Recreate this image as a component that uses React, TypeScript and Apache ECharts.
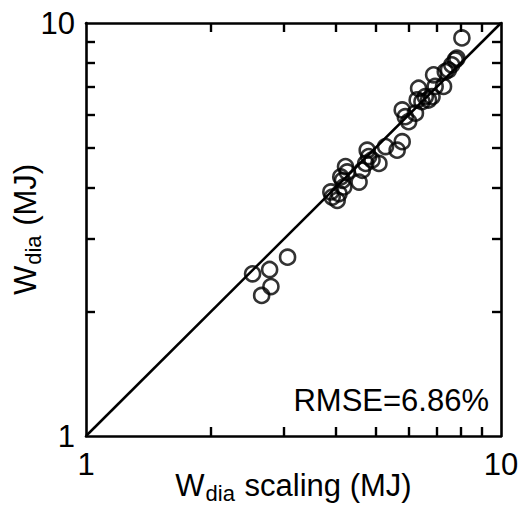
import React, { useEffect, useRef } from "react";
import * as echarts from "echarts";

const xScaling = [
  2.52, 2.77, 2.79, 2.65, 3.06,
  3.89, 3.92, 4.03, 4.07, 4.15, 4.22, 4.26, 4.18, 4.11,
  4.55, 4.63, 4.72, 4.76, 4.80, 4.89, 5.08, 5.27,
  5.62, 5.78, 5.78, 5.88, 5.99, 6.22,
  6.28, 6.33, 6.45, 6.57, 6.69, 6.82, 6.88, 6.94, 7.27, 7.34, 7.47, 7.61, 7.76, 7.83, 8.05,
];
const yMeasured = [
  2.47, 2.53, 2.30, 2.19, 2.71,
  3.90, 3.79, 3.72, 3.86, 4.16, 4.49, 4.36, 4.01, 4.24,
  4.12, 4.40, 4.57, 4.92, 4.75, 4.66, 4.57, 5.02,
  4.92, 5.16, 6.16, 5.93, 5.77, 6.05,
  6.51, 6.95, 6.45, 6.63, 6.51, 6.63, 7.49, 7.02, 7.02, 7.63, 7.70, 7.92, 8.14, 8.22, 9.20,
];
const diagonal = [1, 10];
const minorTicks = [2, 3, 4, 5, 6, 7, 8, 9];
const majorLabels = [1, 10];
const rmseText = "RMSE=6.86%";

const FONT = "'Liberation Sans', Arial, Helvetica, sans-serif";

export default function App() {
  const ref = useRef<HTMLDivElement>(null);
  useEffect(() => {
    if (!ref.current) return;
    const chart = echarts.init(ref.current, undefined, { renderer: "svg" });
    const axisCommon = {
      type: "log" as const,
      logBase: 10,
      min: 1,
      max: 10,
      axisLine: { show: true, lineStyle: { color: "#000", width: 2.6 } },
      axisTick: {
        show: true,
        inside: true,
        length: 9,
        lineStyle: { color: "#000", width: 2.4 },
        customValues: minorTicks,
      },
      splitLine: { show: false },
      minorTick: { show: false },
    };
    const titleRich = {
      a: { fontSize: 31, fontFamily: FONT, color: "#000" },
      b: { fontSize: 22, fontFamily: FONT, color: "#000", padding: [15, 1, 0, 1] },
    };
    chart.setOption({
      animation: false,
      backgroundColor: "#fff",
      grid: { left: 86, right: 19, top: 23, bottom: 81, outerBoundsMode: "none" },
      xAxis: [
        {
          ...axisCommon,
          position: "bottom",
          name: "{a|W}{b|dia}{a| scaling (MJ)}",
          nameLocation: "middle",
          nameGap: 31,
          nameMoveOverlap: false,
          nameTextStyle: { rich: titleRich },
          axisLabel: {
            show: true,
            customValues: majorLabels,
            fontSize: 31,
            fontFamily: FONT,
            color: "#000",
            margin: 13,
            formatter: (v: number) => String(v),
          },
        },
        {
          ...axisCommon,
          position: "top",
          axisLabel: { show: false },
        },
      ],
      yAxis: [
        {
          ...axisCommon,
          position: "left",
          name: "{a|W}{b|dia}{a| (MJ)}",
          nameLocation: "middle",
          nameGap: 42,
          nameMoveOverlap: false,
          nameRotate: 90,
          nameTextStyle: { rich: titleRich },
          axisLabel: {
            show: true,
            customValues: majorLabels,
            fontSize: 31,
            fontFamily: FONT,
            color: "#000",
            margin: 11,
            formatter: (v: number) => String(v),
          },
        },
        {
          ...axisCommon,
          position: "right",
          axisLabel: { show: false },
        },
      ],
      series: [
        {
          type: "line",
          data: diagonal.map((v) => [v, v]),
          symbol: "none",
          lineStyle: { color: "#000", width: 2.5 },
          silent: true,
        },
        {
          type: "scatter",
          data: xScaling.map((x, i) => [x, yMeasured[i]]),
          symbol: "circle",
          symbolSize: 15,
          itemStyle: { color: "rgba(0,0,0,0)", borderColor: "#000", borderWidth: 2.6 },
        },
      ],
      graphic: [
        {
          type: "text",
          right: 31,
          top: 385,
          style: { text: rmseText, fontSize: 31, fontFamily: FONT, fill: "#000" },
        },
      ],
    });
    return () => chart.dispose();
  }, []);
  return (
    <div
      ref={ref}
      style={{ position: "fixed", left: 0, top: 0, width: 520, height: 517, background: "#fff" }}
    />
  );
}
